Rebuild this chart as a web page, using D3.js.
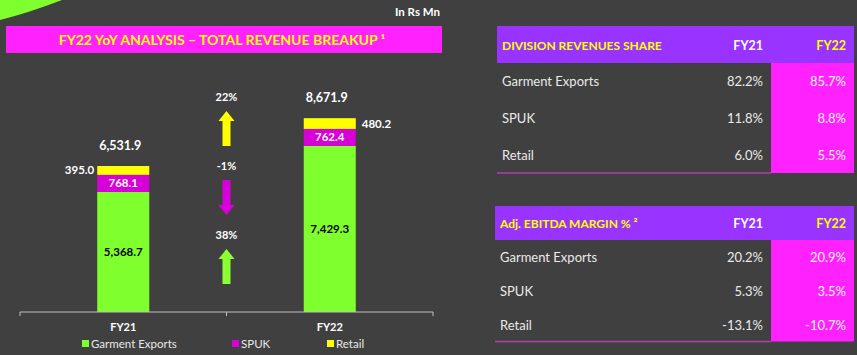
<!DOCTYPE html>
<html><head><meta charset="utf-8">
<script src="https://cdn.jsdelivr.net/npm/d3@7/dist/d3.min.js"></script>
<style>
html,body{margin:0;padding:0;background:#404040;}
svg{display:block;font-family:Lato,"Open Sans",sans-serif;}
</style></head>
<body>
<svg id="c" width="857" height="355"></svg>
<script>
// ---- data ----
const categories = ["FY21", "FY22"];
const seriesNames = ["Garment Exports", "SPUK", "Retail"];
const garmentExports = [5368.7, 7429.3];
const spuk = [768.1, 762.4];
const retail = [395.0, 480.2];
const totals = [6531.9, 8671.9];
const growthLabels = ["22%", "-1%", "38%"];
const growthDirection = ["up", "down", "up"];
const shareTitle = "DIVISION REVENUES SHARE";
const shareRows = ["Garment Exports", "SPUK", "Retail"];
const shareFY21 = ["82.2%", "11.8%", "6.0%"];
const shareFY22 = ["85.7%", "8.8%", "5.5%"];
const marginTitle = "Adj. EBITDA MARGIN % ²";
const marginRows = ["Garment Exports", "SPUK", "Retail"];
const marginFY21 = ["20.2%", "5.3%", "-13.1%"];
const marginFY22 = ["20.9%", "3.5%", "-10.7%"];

// ---- styles ----
const colors = {"Garment Exports": "#80ff2e", "SPUK": "#d800d8", "Retail": "#ffff00"};
const arrowColors = ["#ffff00", "#d800d8", "#8cff33"];
const svg = d3.select("#c");

// decorative corner
svg.append("path").attr("d", "M0,0 L62,0 Q28,13 0,20 Z").attr("fill", "#80ff2e");

svg.append("text").attr("x", 440).attr("y", 16).attr("text-anchor", "end")
  .attr("fill", "#ffffff").attr("font-weight", "bold").attr("font-size", 11.5).text("In Rs Mn");

// title banner
svg.append("rect").attr("x", 6).attr("y", 26).attr("width", 436).attr("height", 27).attr("fill", "#ff22ff");
svg.append("text").attr("x", 222).attr("y", 45).attr("text-anchor", "middle")
  .attr("fill", "#ffff00").attr("font-weight", "bold").attr("font-size", 14)
  .text("FY22 YoY ANALYSIS – TOTAL REVENUE BREAKUP ¹");

// ---- chart ----
const rows = categories.map((c, i) => ({cat: c, "Garment Exports": garmentExports[i], "SPUK": spuk[i], "Retail": retail[i]}));
const stack = d3.stack().keys(seriesNames)(rows);
const x = d3.scaleBand().domain(categories).range([20, 433]).paddingInner(0.748).paddingOuter(0.374);
const y = d3.scaleLinear().domain([0, 10000]).range([312, 88.5]);

const g = svg.append("g");
stack.forEach(layer => {
  g.selectAll(null).data(layer).enter().append("rect")
    .attr("x", d => x(d.data.cat)).attr("width", x.bandwidth())
    .attr("y", d => y(d[1])).attr("height", d => y(d[0]) - y(d[1]))
    .attr("fill", colors[layer.key]);
});

// axis
const axisG = svg.append("g").attr("transform", "translate(0,312)");
axisG.append("line").attr("x1", 20).attr("x2", 433).attr("stroke", "#bfbfbf").attr("stroke-width", 1);
[20, 20 + x.step(), 433].forEach(t => axisG.append("line").attr("x1", t).attr("x2", t).attr("y1", 0).attr("y2", 4).attr("stroke", "#bfbfbf"));
categories.forEach(c => axisG.append("text").attr("x", x(c) + x.bandwidth() / 2).attr("y", 19)
  .attr("text-anchor", "middle").attr("fill", "#ffffff").attr("font-weight", "bold").attr("font-size", 11).text(c));

const fmt = d3.format(",.1f");
categories.forEach((c, i) => {
  const cx = x(c) + x.bandwidth() / 2;
  g.append("text").attr("x", cx).attr("y", (y(0) + y(garmentExports[i])) / 2 + 4)
    .attr("text-anchor", "middle").attr("fill", "#000").attr("font-weight", "bold").attr("font-size", 11.5).text(fmt(garmentExports[i]));
  g.append("text").attr("x", cx).attr("y", (y(garmentExports[i]) + y(garmentExports[i] + spuk[i])) / 2 + 4)
    .attr("text-anchor", "middle").attr("fill", "#fff").attr("font-weight", "bold").attr("font-size", 11.5).text(fmt(spuk[i]));
  const top = garmentExports[i] + spuk[i];
  const ry = (y(top) + y(top + retail[i])) / 2 + 4;
  if (i === 0) {
    g.append("text").attr("x", x(c) - 3).attr("y", ry).attr("text-anchor", "end")
      .attr("fill", "#fff").attr("font-weight", "bold").attr("font-size", 11.5).text(fmt(retail[i]));
  } else {
    g.append("text").attr("x", x(c) + x.bandwidth() + 6).attr("y", ry).attr("text-anchor", "start")
      .attr("fill", "#fff").attr("font-weight", "bold").attr("font-size", 11.5).text(fmt(retail[i]));
  }
  g.append("text").attr("x", cx - 3).attr("y", y(totals[i]) - 16)
    .attr("text-anchor", "middle").attr("fill", "#fff").attr("font-weight", "bold").attr("font-size", 12.5).text(fmt(totals[i]));
});

// growth arrows
const ax = 20 + x.step();
growthLabels.forEach((lab, i) => {
  const base = 101 + i * 69;
  svg.append("text").attr("x", ax).attr("y", base).attr("text-anchor", "middle")
    .attr("fill", "#fff").attr("font-weight", "bold").attr("font-size", 11).text(lab);
  const t = base + 10, b = base + 45;
  let p;
  if (growthDirection[i] === "up") {
    p = `M${ax},${t} L${ax + 8},${t + 10} L${ax + 4},${t + 10} L${ax + 4},${b} L${ax - 4},${b} L${ax - 4},${t + 10} L${ax - 8},${t + 10} Z`;
  } else {
    p = `M${ax - 4},${t} L${ax + 4},${t} L${ax + 4},${b - 10} L${ax + 8},${b - 10} L${ax},${b} L${ax - 8},${b - 10} L${ax - 4},${b - 10} Z`;
  }
  svg.append("path").attr("d", p).attr("fill", arrowColors[i]);
});

// legend
const legendX = [82, 232, 327];
seriesNames.forEach((s, i) => {
  svg.append("rect").attr("x", legendX[i]).attr("y", 340).attr("width", 7).attr("height", 7).attr("fill", colors[s]);
  svg.append("text").attr("x", legendX[i] + 9).attr("y", 348).attr("fill", "#e8e8e8").attr("font-size", 11.5).text(s);
});

// ---- tables ----
function table(top, left, title, names, v21, v22, rowGap, bottom, headH) {
  const right = 854, colL = 771;
  svg.append("rect").attr("x", colL).attr("y", top + headH).attr("width", right - colL).attr("height", bottom - top - headH).attr("fill", "#ff22ff");
  svg.append("rect").attr("x", left).attr("y", top).attr("width", right - left).attr("height", headH).attr("fill", "#9933ff");
  svg.append("line").attr("x1", left).attr("x2", colL).attr("y1", bottom).attr("y2", bottom).attr("stroke", "#b03cb0").attr("stroke-width", 1.5);
  const hy = top + headH / 2 + 5;
  svg.append("text").attr("x", left + 5).attr("y", hy).attr("fill", "#ffff00").attr("font-weight", "bold").attr("font-size", 12).text(title);
  svg.append("text").attr("x", 763).attr("y", hy).attr("text-anchor", "end").attr("fill", "#fff").attr("font-weight", "bold").attr("font-size", 12.5).text("FY21");
  svg.append("text").attr("x", 846).attr("y", hy).attr("text-anchor", "end").attr("fill", "#ffff00").attr("font-weight", "bold").attr("font-size", 12.5).text("FY22");
  names.forEach((n, i) => {
    const ry = top + headH + rowGap * (i + 0.5) + 5;
    svg.append("text").attr("x", left + 5).attr("y", ry).attr("fill", "#eaeaea").attr("font-size", 13).text(n);
    svg.append("text").attr("x", 763).attr("y", ry).attr("text-anchor", "end").attr("fill", "#eaeaea").attr("font-size", 13).text(v21[i]);
    svg.append("text").attr("x", 846).attr("y", ry).attr("text-anchor", "end").attr("fill", "#f4f4f4").attr("font-size", 13).text(v22[i]);
  });
}
table(26, 497, shareTitle, shareRows, shareFY21, shareFY22, 36.7, 173, 37);
table(206, 495, marginTitle, marginRows, marginFY21, marginFY22, 33.8, 341.5, 34);
</script>
</body></html>
